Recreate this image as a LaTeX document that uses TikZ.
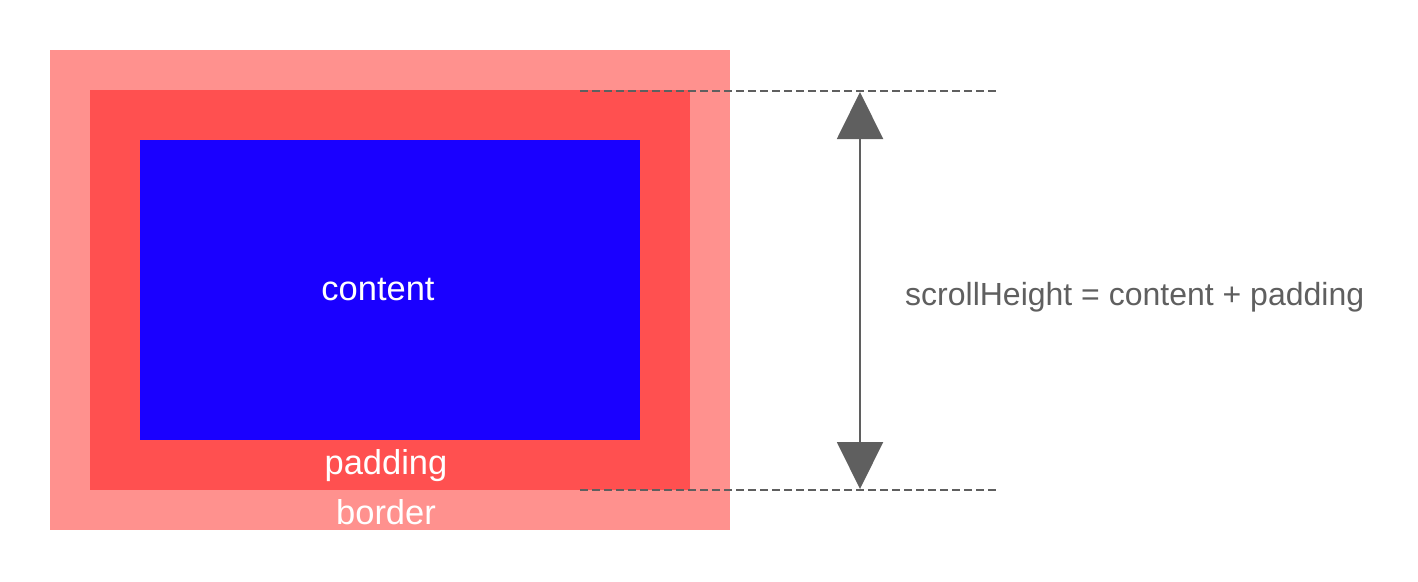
\documentclass[tikz,border=0pt]{standalone}
\usepackage{fontspec}
\setmainfont{Liberation Sans}
\usetikzlibrary{arrows.meta}
\definecolor{borderc}{HTML}{FF918E}
\definecolor{paddingc}{HTML}{FF5050}
\definecolor{contentc}{HTML}{1A00FF}
\definecolor{grayc}{HTML}{5F5F5F}
\tikzset{
  box/.style={draw=none, inner sep=0pt, outer sep=0pt},
  whitelabel/.style={text=white, inner sep=0pt, font=\fontsize{34.5}{40}\selectfont},
  guide/.style={grayc, line width=2pt, dash pattern=on 8pt off 4pt},
  dim/.style={grayc, line width=2pt, {Triangle[width=46pt,length=47pt]}-{Triangle[width=46pt,length=47pt]}},
}
\begin{document}
\begin{tikzpicture}[x=1pt,y=-1pt]
\useasboundingbox (0,0) rectangle (1418,581);
\node[box, fill=borderc, minimum width=680pt, minimum height=480pt] (border) at (390,290) {};
\node[box, fill=paddingc, minimum width=600pt, minimum height=400pt] (padding) at (390,290) {};
\node[box, fill=contentc, minimum width=500pt, minimum height=300pt] (content) at (390,290) {};
\node[whitelabel] (contentlbl) at (378,290) {content};
\node[whitelabel] (paddinglbl) at (386,466) {padding};
\node[whitelabel] (borderlbl) at (386,512) {border};
\coordinate (t1) at (580,91);
\coordinate (t2) at (997,91);
\coordinate (b1) at (580,490);
\coordinate (b2) at (997,490);
\coordinate (atop) at (860,92);
\coordinate (abot) at (860,489);
\draw[guide] (t1) -- (t2);
\draw[guide] (b1) -- (b2);
\draw[dim] (atop) -- (abot);
\node[anchor=west, text=grayc, inner sep=0pt, font=\fontsize{32}{37}\selectfont] (formula) at (905,297) {scrollHeight = content + padding};
\end{tikzpicture}
\end{document}
